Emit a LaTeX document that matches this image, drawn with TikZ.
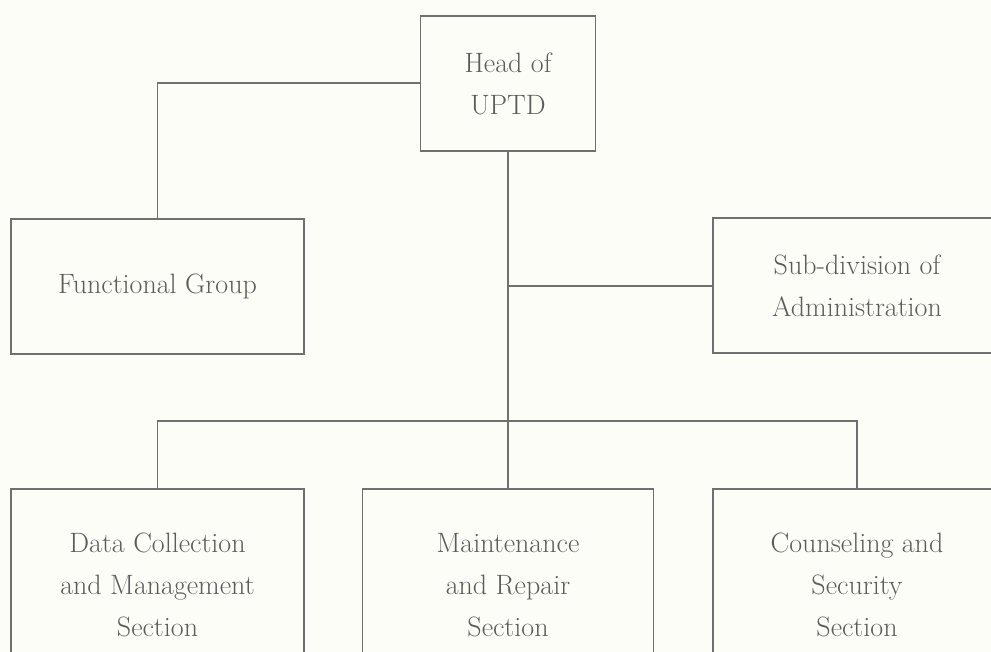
\documentclass[tikz,border=0pt]{standalone}
\usepackage{fontspec}
\usepackage{xcolor}
\definecolor{bgcol}{HTML}{FDFDF8}
\definecolor{linecol}{HTML}{707070}
\definecolor{textcol}{HTML}{5C5C5C}
\begin{document}
\begin{tikzpicture}[x=1pt,y=-1pt,
  box/.style={draw=linecol, line width=1.3pt, fill=bgcol, text=textcol, align=center,
    inner sep=0pt, font=\fontsize{28}{42}\selectfont\addfontfeatures{LetterSpace=8}},
  conn/.style={draw=linecol, line width=1.3pt}]
\fill[bgcol] (0,0) rectangle (991,652);
\clip (0,0) rectangle (991,652);
\node[box, minimum width=175pt, minimum height=135pt] (head) at (508,83.5) {Head of\\UPTD};
\node[box, minimum width=293pt, minimum height=135pt] (func) at (157.5,286.5) {Functional Group};
\node[box, minimum width=288pt, minimum height=135pt] (sub) at (857,285.5) {Sub-division of\\Administration};
\node[box, minimum width=293pt, minimum height=192pt] (data) at (157.5,585) {Data Collection\\and Management\\Section};
\node[box, minimum width=291pt, minimum height=192pt] (maint) at (508,585) {Maintenance\\and Repair\\Section};
\node[box, minimum width=288pt, minimum height=192pt] (couns) at (857,585) {Counseling and\\Security\\Section};
\coordinate (j1) at (508,286);
\coordinate (j2) at (508,421);
\draw[conn] (head.west |- 0,83) -| (func.north);
\draw[conn] (head.south) -- (j2);
\draw[conn] (j1) -- (sub.west |- j1);
\draw[conn] (data.north) |- (j2) -| (couns.north);
\draw[conn] (j2) -- (maint.north);
\end{tikzpicture}
\end{document}
